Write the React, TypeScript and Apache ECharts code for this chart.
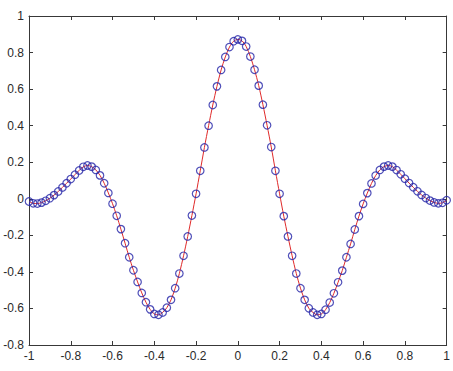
import { useEffect, useRef } from "react";
import * as echarts from "echarts";

const xValues = [
  -1.0, -0.98, -0.96, -0.94, -0.92, -0.9, -0.88, -0.86, -0.84, -0.82,
  -0.8, -0.78, -0.76, -0.74, -0.72, -0.7, -0.68, -0.66, -0.64, -0.62,
  -0.6, -0.58, -0.56, -0.54, -0.52, -0.5, -0.48, -0.46, -0.44, -0.42,
  -0.4, -0.38, -0.36, -0.34, -0.32, -0.3, -0.28, -0.26, -0.24, -0.22,
  -0.2, -0.18, -0.16, -0.14, -0.12, -0.1, -0.08, -0.06, -0.04, -0.02,
  0.0,
  0.02, 0.04, 0.06, 0.08, 0.1, 0.12, 0.14, 0.16, 0.18, 0.2,
  0.22, 0.24, 0.26, 0.28, 0.3, 0.32, 0.34, 0.36, 0.38, 0.4,
  0.42, 0.44, 0.46, 0.48, 0.5, 0.52, 0.54, 0.56, 0.58, 0.6,
  0.62, 0.64, 0.66, 0.68, 0.7, 0.72, 0.74, 0.76, 0.78, 0.8,
  0.82, 0.84, 0.86, 0.88, 0.9, 0.92, 0.94, 0.96, 0.98, 1.0,
];

const yValues = [
  -0.015, -0.025, -0.026, -0.021, -0.011, 0.003, 0.02, 0.04, 0.062, 0.085,
  0.108, 0.132, 0.155, 0.175, 0.182, 0.176, 0.158, 0.128, 0.085, 0.032,
  -0.027, -0.093, -0.166, -0.243, -0.32, -0.391, -0.455, -0.515, -0.566, -0.605,
  -0.63, -0.635, -0.622, -0.596, -0.553, -0.489, -0.409, -0.312, -0.206, -0.092,
  0.027, 0.153, 0.281, 0.4, 0.513, 0.615, 0.705, 0.776, 0.83, 0.862,
  0.872,
  0.864, 0.833, 0.778, 0.706, 0.619, 0.515, 0.402, 0.283, 0.153, 0.027,
  -0.095, -0.206, -0.312, -0.409, -0.489, -0.553, -0.599, -0.622, -0.635, -0.63,
  -0.607, -0.568, -0.517, -0.457, -0.393, -0.32, -0.247, -0.168, -0.095, -0.028,
  0.031, 0.084, 0.127, 0.158, 0.176, 0.182, 0.176, 0.157, 0.134, 0.11,
  0.086, 0.063, 0.041, 0.021, 0.004, -0.01, -0.02, -0.025, -0.022, -0.008,
];

const xRange = [-1, 1];
const yRange = [-0.8, 1];
const tickStep = 0.2;

export default function App() {
  const ref = useRef<HTMLDivElement>(null);

  useEffect(() => {
    const chart = echarts.init(ref.current!, null, { renderer: "svg" });
    const data = xValues.map((x, i) => [x, yValues[i]]);
    const axisColor = "#383838";
    const font = "'Liberation Sans', Arial, sans-serif";
    const common = {
      type: "value",
      interval: tickStep,
      axisLine: { show: true, onZero: false, lineStyle: { color: axisColor, width: 1 } },
      axisTick: { show: true, inside: true, length: 4, lineStyle: { color: axisColor, width: 1 } },
      splitLine: { show: false },
    };
    chart.setOption({
      animation: false,
      backgroundColor: "#ffffff",
      grid: { left: 29, right: 6, top: 16, bottom: 26, containLabel: false },
      xAxis: [
        {
          ...common,
          min: xRange[0],
          max: xRange[1],
          position: "bottom",
          axisLabel: { color: "#2a2a2a", fontSize: 12, fontFamily: font, margin: 5 },
        },
        {
          ...common,
          min: xRange[0],
          max: xRange[1],
          position: "top",
          axisLabel: { show: false },
        },
      ],
      yAxis: [
        {
          ...common,
          min: yRange[0],
          max: yRange[1],
          position: "left",
          axisLabel: { color: "#2a2a2a", fontSize: 12, fontFamily: font, margin: 5 },
        },
        {
          ...common,
          min: yRange[0],
          max: yRange[1],
          position: "right",
          axisLabel: { show: false },
        },
      ],
      series: [
        {
          type: "line",
          data,
          xAxisIndex: 0,
          yAxisIndex: 0,
          smooth: 0.3,
          showSymbol: false,
          symbol: "none",
          lineStyle: { color: "#e02a2a", width: 1 },
          z: 2,
        },
        {
          type: "scatter",
          data,
          xAxisIndex: 0,
          yAxisIndex: 0,
          symbol: "circle",
          symbolSize: 7.5,
          itemStyle: { color: "rgba(0,0,0,0)", borderColor: "#2424a8", borderWidth: 1.2 },
          z: 3,
        },
      ],
    });
    return () => chart.dispose();
  }, []);

  return (
    <div
      ref={ref}
      style={{ position: "absolute", left: 0, top: 0, width: 453, height: 371, background: "#fff" }}
    />
  );
}
